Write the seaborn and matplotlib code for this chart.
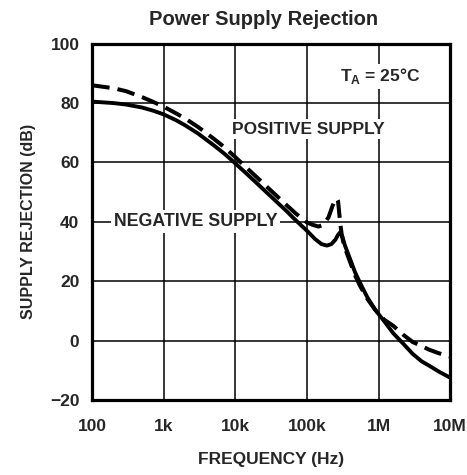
import matplotlib
matplotlib.use("Agg")
import matplotlib.pyplot as plt
import seaborn as sns

# negative supply (solid)
neg_freq = [100, 200, 300, 500, 700, 1e3, 1.5e3, 2e3, 3e3, 5e3, 7e3, 1e4, 1.5e4, 2e4, 3e4,
            5e4, 7e4, 1e5, 1.3e5, 1.6e5, 1.9e5, 2.2e5, 2.5e5, 2.7e5, 2.9e5, 3.1e5, 3.4e5,
            4e5, 4.7e5, 5.5e5, 7e5, 8.9e5, 1.2e6, 1.6e6, 2.2e6, 3e6, 4e6, 5.2e6, 7e6, 1e7]
neg_db = [80.5, 80.0, 79.5, 78.5, 77.5, 76.2, 74.2, 72.5, 69.8, 65.8, 63.0, 59.7, 55.8, 53.0, 49.0,
          44.0, 40.5, 37.0, 34.2, 32.5, 32.0, 32.5, 34.0, 35.5, 36.4, 35.2, 32.0,
          27.5, 23.0, 19.5, 14.5, 10.5, 6.5, 2.5, -1.0, -4.5, -7.0, -8.6, -10.5, -12.5]

# positive supply (dashed)
pos_freq = [100, 200, 300, 500, 700, 1e3, 1.5e3, 2e3, 3e3, 5e3, 7e3, 1e4, 1.5e4, 2e4, 3e4,
            5e4, 7e4, 1e5, 1.2e5, 1.45e5, 1.7e5, 2e5, 2.25e5, 2.45e5, 2.62e5, 2.72e5, 2.8e5,
            2.9e5, 3.05e5, 3.3e5, 4e5, 4.7e5, 5.5e5, 7e5, 8.9e5, 1.2e6, 1.6e6, 2.2e6, 3e6,
            3.8e6, 5e6, 7e6, 1e7]
pos_db = [86.0, 85.0, 84.0, 82.0, 80.5, 78.8, 76.5, 74.8, 72.0, 68.0, 65.2, 61.8, 57.8, 55.0, 51.0,
          46.0, 42.8, 39.8, 39.0, 38.4, 39.0, 41.5, 45.0, 47.2, 47.8, 47.0, 44.0,
          40.0, 36.0, 32.0, 26.5, 22.0, 18.5, 14.0, 10.5, 7.0, 5.0, 2.0, -0.5,
          -1.6, -3.0, -4.3, -5.4]

x_ticks = [100, 1e3, 1e4, 1e5, 1e6, 1e7]
x_labels = ["100", "1k", "10k", "100k", "1M", "10M"]
y_ticks = [-20, 0, 20, 40, 60, 80, 100]

sns.set_style("white")
plt.rcParams['font.family'] = ['Liberation Sans', 'DejaVu Sans']
plt.rcParams['mathtext.fontset'] = 'custom'
plt.rcParams['mathtext.rm'] = 'Liberation Sans:bold'
plt.rcParams['mathtext.bf'] = 'Liberation Sans:bold'

fig = plt.figure(figsize=(4.67, 4.75), dpi=100)
ax = fig.add_axes([0.197, 0.158, 0.767, 0.750])

sns.lineplot(x=neg_freq, y=neg_db, ax=ax, color='black', linewidth=2.8,
             estimator=None, sort=False)
sns.lineplot(x=pos_freq, y=pos_db, ax=ax, color='black', linewidth=2.9,
             estimator=None, sort=False)
ax.lines[-1].set_dashes((4.4, 2.0))

ax.set_xscale('log')
ax.set_xlim(100, 1e7)
ax.set_ylim(-20, 100)
ax.set_xticks(x_ticks)
ax.set_xticklabels(x_labels)
ax.set_yticks(y_ticks)
ax.minorticks_off()
ax.tick_params(length=0, labelsize=12.5)
ax.tick_params(axis='x', pad=14)
ax.tick_params(axis='y', pad=9)
for lab in ax.get_xticklabels() + ax.get_yticklabels():
    lab.set_fontweight('bold')

ax.grid(True, color='black', linewidth=1.1)
ax.set_axisbelow(True)
for s in ax.spines.values():
    s.set_color('black')
    s.set_linewidth(2.3)

ax.set_xlabel('FREQUENCY (Hz)', fontsize=12.5, fontweight='bold', labelpad=13)
ax.set_ylabel('SUPPLY REJECTION (dB)', fontsize=11.5, fontweight='bold', labelpad=10)
fig.suptitle('Power Supply Rejection', x=0.565, y=0.978, fontsize=14.5, fontweight='bold')

box = dict(facecolor='white', edgecolor='none', pad=2)
ax.text(1.04e5, 71.2, 'POSITIVE SUPPLY', ha='center', va='center', fontsize=12.5,
        fontweight='bold', bbox=box, zorder=3)
ax.text(2.8e3, 40, 'NEGATIVE SUPPLY', ha='center', va='center', fontsize=12.8,
        fontweight='bold', bbox=box, zorder=3)
ax.text(1.05e6, 89, r'T$_\mathbf{A}$ = 25°C', ha='center', va='center', fontsize=12.5,
        fontweight='bold', bbox=box, zorder=3)

fig.savefig('out.png', dpi=100)
